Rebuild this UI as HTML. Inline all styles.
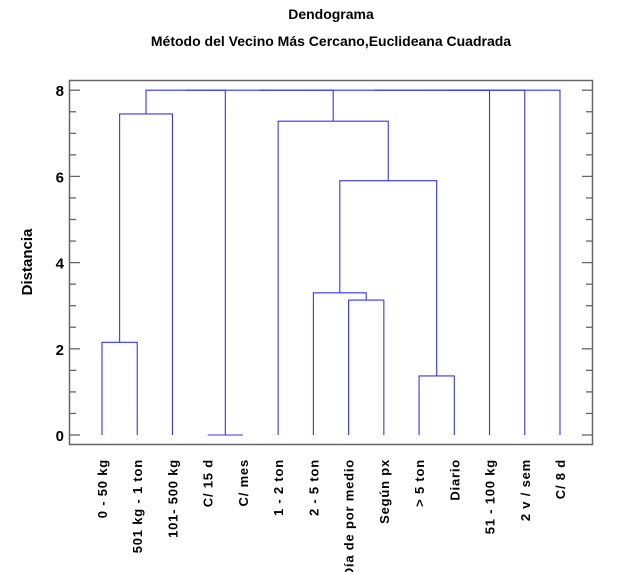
<!DOCTYPE html>
<html><head><meta charset="utf-8"><style>
html,body{margin:0;padding:0;background:#fff;}
svg{display:block;font-family:"Liberation Sans",Arial,sans-serif;}
</style></head><body>
<svg id="chart" width="620" height="572" viewBox="0 0 620 572">
<text x="331" y="19" text-anchor="middle" font-size="14" font-weight="bold">Dendograma</text>
<text x="331" y="46" text-anchor="middle" font-size="14" font-weight="bold">Método del Vecino Más Cercano,Euclideana Cuadrada</text>
<rect x="69.5" y="80.5" width="523" height="364" fill="none" stroke="#666" stroke-width="1.5"/>
<text transform="translate(32,262) rotate(-90)" text-anchor="middle" font-size="15" font-weight="bold">Distancia</text>
<g id="ticks"></g>
<g id="links"></g>
<g id="labels"></g>
</svg>
<script>
const leafLabels = ["0 - 50 kg","501 kg - 1 ton","101- 500 kg","C/ 15 d","C/ mes","1 - 2 ton","2 - 5 ton","Día de por medio","Según px","> 5 ton","Diario","51 - 100 kg","2 v / sem","C/ 8 d"];
// merges: [childA, childB, height]; indices < 14 are leaves, >=14 are earlier merges (node 14+m)
const mergeA = [3, 0, 7, 9, 6, 18, 5, 15, 21, 22, 23, 24, 25];
const mergeB = [4, 1, 8, 10, 16, 17, 19, 2, 14, 20, 11, 12, 13];
const mergeH = [0.0, 2.15, 3.13, 1.37, 3.3, 5.9, 7.28, 7.45, 8.0, 8.0, 8.0, 8.0, 8.0];
const yTicks = [0, 2, 4, 6, 8];

const NS = "http://www.w3.org/2000/svg";
const x0 = 102, dx = 35.23;
const yScale = v => 435 - v * 43.1;
const xLeaf = i => x0 + i * dx;

const tg = document.getElementById('ticks');
for (let k = 0; k <= 16; k++) {
  const v = k * 0.5, y = yScale(v), major = k % 4 === 0;
  const l = document.createElementNS(NS, 'line');
  l.setAttribute('x1', 69); l.setAttribute('x2', major ? 80 : 76);
  l.setAttribute('y1', y); l.setAttribute('y2', y);
  l.setAttribute('stroke', '#666'); l.setAttribute('stroke-width', 1.3);
  
  
  tg.appendChild(l);
  const r = document.createElementNS(NS, 'line');
  r.setAttribute('x1', major ? 582 : 586); r.setAttribute('x2', 593);
  r.setAttribute('y1', y); r.setAttribute('y2', y);
  r.setAttribute('stroke', '#666'); r.setAttribute('stroke-width', 1.3);
  
  
  tg.appendChild(r);
}
yTicks.forEach(v => {
  const t = document.createElementNS(NS, 'text');
  t.setAttribute('x', 64); t.setAttribute('y', yScale(v) + 6);
  t.setAttribute('text-anchor', 'end'); t.setAttribute('font-size', 15); t.setAttribute('font-weight', 'bold');
  t.textContent = v;
  
  
  tg.appendChild(t);
});

const nodeX = [], nodeH = [];
leafLabels.forEach((s, i) => { nodeX.push(xLeaf(i)); nodeH.push(0); });
const lg = document.getElementById('links');
for (let m = 0; m < mergeA.length; m++) {
  const a = mergeA[m], b = mergeB[m], h = mergeH[m];
  const xa = nodeX[a], xb = nodeX[b], yh = yScale(h);
  const p = document.createElementNS(NS, 'path');
  p.setAttribute('d', `M${xa},${yScale(nodeH[a])}V${yh}H${xb}V${yScale(nodeH[b])}`);
  p.setAttribute('fill', 'none'); p.setAttribute('stroke', '#3333ff'); p.setAttribute('stroke-width', 1.1);
  
  
  lg.appendChild(p);
  nodeX.push((xa + xb) / 2); nodeH.push(h);
}

const lb = document.getElementById('labels');
leafLabels.forEach((s, i) => {
  const t = document.createElementNS(NS, 'text');
  t.setAttribute('transform', `translate(${xLeaf(i) + 5},459) rotate(-90)`);
  t.setAttribute('text-anchor', 'end'); t.setAttribute('font-size', 13); t.setAttribute('font-weight', 'bold');
  t.setAttribute('letter-spacing', '0.8');
  t.textContent = s;
  
  
  lb.appendChild(t);
});
</script>
</body></html>
